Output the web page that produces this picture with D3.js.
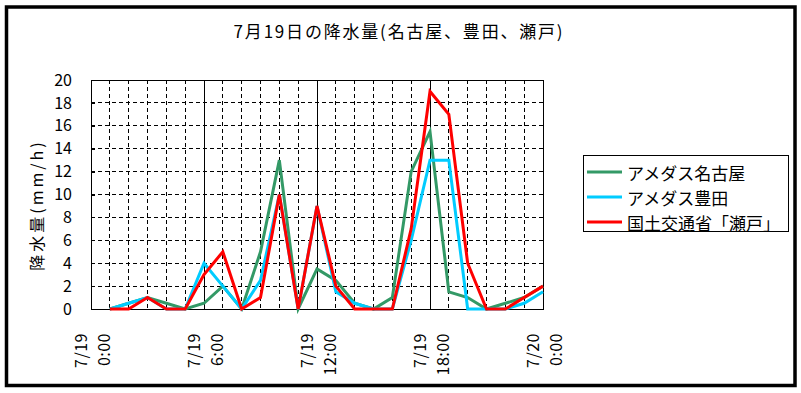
<!DOCTYPE html>
<html>
<head>
<meta charset="utf-8">
<script src="https://cdn.jsdelivr.net/npm/d3@7"></script>
<style>
    body { margin: 0; background: #fff; }
    text { font-family: "Noto Sans CJK JP", "Noto Sans", sans-serif; fill: #000; }
</style>
</head>
<body>
<script>
// hours (value at hour h = rain from h-1 to h)
var hours = [1, 2, 3, 4, 5, 6, 7, 8, 9, 10, 11, 12, 13, 14, 15, 16, 17, 18, 19, 20, 21, 22, 23, 24];
var nagoya = [0, 0.5, 1, 0.5, 0, 0.5, 2, 0, 5, 13, 0, 3.5, 2.5, 0.5, 0, 1, 12, 15.5, 1.5, 1, 0, 0.5, 1, 2];
var toyota = [0, 0.5, 1, 0, 0, 4, 2, 0, 2.5, 10, 0, 9, 1.5, 0.5, 0, 0, 6, 13, 13, 0, 0, 0, 0.5, 1.5];
var seto = [0, 0, 1, 0, 0, 3, 5, 0, 1, 10, 0, 9, 2, 0, 0, 0, 7, 19, 17, 4, 0, 0, 1, 2];
var seriesNames = ["アメダス名古屋", "アメダス豊田", "国土交通省「瀬戸」"];
var seriesColors = ["#339966", "#00ccff", "#ff0000"];
var yTicks = [0, 2, 4, 6, 8, 10, 12, 14, 16, 18, 20];
var xTicks = [0, 6, 12, 18, 24];
var xTickLabels = [["7/19", "0:00"], ["7/19", "6:00"], ["7/19", "12:00"], ["7/19", "18:00"], ["7/20", "0:00"]];

var W = 801, H = 393;
var margin = { left: 91, right: 543, top: 80, bottom: 309 };

var svg = d3.select("body").append("svg")
    .attr("width", W)
    .attr("height", H);

// outer frame
svg.append("rect")
    .attr("x", 6.5).attr("y", 7)
    .attr("width", 788.5).attr("height", 378.5)
    .attr("fill", "#fff")
    .attr("stroke", "#000")
    .attr("stroke-width", 3.5);

// title
svg.append("text")
    .attr("x", 399).attr("y", 30)
    .attr("text-anchor", "middle")
    .attr("dominant-baseline", "central")
    .style("font-size", "17px")
    .style("letter-spacing", "1.8px")
    .text("7月19日の降水量(名古屋、豊田、瀬戸)");

// scales
var x = d3.scaleLinear().domain([0, 24]).range([margin.left, margin.right]);
var y = d3.scaleLinear().domain([0, 20]).range([margin.bottom, margin.top]);

// grid
var grid = svg.append("g").attr("shape-rendering", "crispEdges");
grid.selectAll(".hgrid")
    .data(yTicks.filter(function (d) { return d > 0 && d < 20; }))
    .enter().append("line")
    .attr("x1", margin.left).attr("x2", margin.right)
    .attr("y1", function (d) { return y(d); })
    .attr("y2", function (d) { return y(d); })
    .attr("stroke", "#000")
    .attr("stroke-dasharray", "4,3");

grid.selectAll(".vgrid")
    .data(hours.filter(function (d) { return d < 24; }))
    .enter().append("line")
    .attr("x1", function (d) { return x(d); })
    .attr("x2", function (d) { return x(d); })
    .attr("y1", margin.top).attr("y2", margin.bottom)
    .attr("stroke", "#000")
    .attr("stroke-dasharray", function (d) { return d % 6 == 0 ? null : "4,3"; });

// plot frame
svg.append("rect")
    .attr("x", margin.left).attr("y", margin.top)
    .attr("width", margin.right - margin.left).attr("height", margin.bottom - margin.top)
    .attr("fill", "none")
    .attr("stroke", "#000")
    .attr("shape-rendering", "crispEdges");

// Y axis
var yAxis = svg.append("g")
    .attr("transform", "translate(" + margin.left + ",0)")
    .call(d3.axisLeft(y).tickValues(yTicks).tickSize(-4).tickPadding(19));
yAxis.select(".domain").remove();
yAxis.selectAll("line").attr("shape-rendering", "crispEdges");
yAxis.attr("font-family", null).attr("font-size", null);
yAxis.selectAll("text")
    .style("font-size", "16px");

// X axis (two line rotated labels)
var xAxis = svg.append("g")
    .attr("transform", "translate(0," + margin.bottom + ")")
    .call(d3.axisBottom(x).tickValues(xTicks).tickSize(0).tickFormat(""));
xAxis.select(".domain").remove();
xAxis.attr("font-family", null).attr("font-size", null);
xAxis.selectAll(".tick").each(function (d, i) {
    var g = d3.select(this);
    xTickLabels[i].forEach(function (s, j) {
        g.append("text")
            .attr("transform", "translate(" + (j == 0 ? -12 : 11) + ",24) rotate(-90)")
            .attr("text-anchor", "end")
            .attr("dominant-baseline", "central")
            .style("font-size", "16px")
            .style("letter-spacing", "0.5px")
            .text(s);
    });
});

// y axis title
svg.append("text")
    .attr("transform", "translate(36,205) rotate(-90)")
    .attr("text-anchor", "middle")
    .attr("dominant-baseline", "central")
    .style("font-size", "16px")
    .style("letter-spacing", "3px")
    .text("降水量(mm/h)");

// lines
var line = d3.line()
    .x(function (d, i) { return x(hours[i]); })
    .y(function (d) { return y(d); });

[nagoya, toyota, seto].forEach(function (s, i) {
    svg.append("path")
        .datum(s)
        .attr("fill", "none")
        .attr("stroke", seriesColors[i])
        .attr("stroke-width", 3)
        .attr("stroke-linejoin", "miter")
        .attr("d", line);
});

// legend
var legend = svg.append("g");
legend.append("rect")
    .attr("x", 583.5).attr("y", 155.5)
    .attr("width", 205).attr("height", 76)
    .attr("fill", "#fff")
    .attr("stroke", "#000");
seriesNames.forEach(function (name, i) {
    var ly = 172 + i * 25;
    legend.append("line")
        .attr("x1", 587).attr("x2", 622)
        .attr("y1", ly).attr("y2", ly)
        .attr("stroke", seriesColors[i])
        .attr("stroke-width", 3);
    legend.append("text")
        .attr("x", 627).attr("y", ly)
        .attr("dominant-baseline", "central")
        .style("font-size", "17px")
        .text(name);
});
</script>
</body>
</html>
